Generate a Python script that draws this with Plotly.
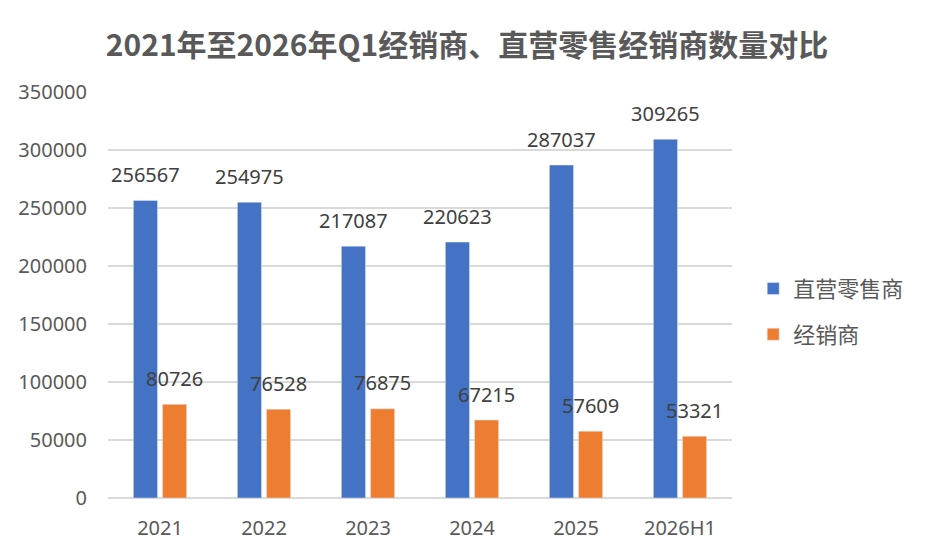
import plotly.graph_objects as go

# 数据
years = ["2021", "2022", "2023", "2024", "2025", "2026H1"]
direct_retail = [256567, 254975, 217087, 220623, 287037, 309265]
dealers = [80726, 76528, 76875, 67215, 57609, 53321]

title_text = "2021年至2026年Q1经销商、直营零售经销商数量对比"
num_font = "Noto Sans, Noto Sans CJK SC, sans-serif"
cjk_font = "Noto Sans CJK SC, sans-serif"

# the page body has an 8px margin, so the figure is a bit smaller
W, H = 927, 545

fig = go.Figure()
fig.add_trace(go.Bar(x=years, y=direct_retail, name="直营零售商",
                     marker_color="#4472C4", legendgroup="a"))
fig.add_trace(go.Bar(x=years, y=dealers, name="经销商",
                     marker_color="#ED7D31", legendgroup="b"))

# data labels, raised above the bar like in the excel chart
# (x given as category index: "2021" would be read as index 2021)
for vals, shift in [(direct_retail, -14.5), (dealers, 14.5)]:
    for i, v in enumerate(vals):
        fig.add_annotation(x=i, y=v, text=str(v), showarrow=False,
                           xshift=shift, yshift=26, yanchor="middle",
                           font=dict(family=num_font, size=20, color="#404040"))

fig.update_layout(
    width=W, height=H,
    margin=dict(l=100, r=203, t=84, b=55),
    paper_bgcolor="white", plot_bgcolor="white",
    barmode="group", bargap=0.44, bargroupgap=0.17,
    title=dict(text="<b>" + title_text + "</b>", x=(467 - 8) / W, xanchor="center",
               y=1 - 37 / H, yanchor="middle",
               font=dict(family=cjk_font, size=30, color="#595959")),
    legend=dict(x=1.034, xanchor="left", y=0.567, yanchor="top",
                tracegroupgap=14,
                font=dict(family=cjk_font, size=22, color="#595959")),
    showlegend=True,
)
fig.update_yaxes(range=[0, 350000], dtick=50000, tickformat="d",
                 showgrid=True, automargin=False,
                 gridcolor="#D9D9D9", gridwidth=1.5, zeroline=True,
                 zerolinecolor="#D9D9D9", zerolinewidth=1.5,
                 ticks="", ticklabelstandoff=20,
                 tickfont=dict(family=num_font, size=20, color="#595959"))
fig.update_xaxes(type="category", range=[-0.5, len(years) - 0.5],
                 showline=False, ticks="",
                 ticklabelstandoff=16, automargin=False,
                 tickfont=dict(family=num_font, size=20, color="#595959"))

fig.write_html("out.html")
